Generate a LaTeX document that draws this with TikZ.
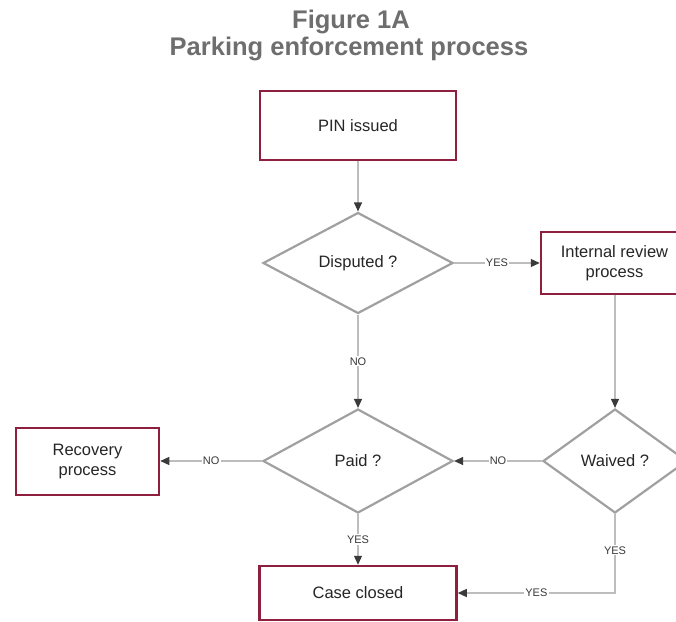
\documentclass[tikz,border=0pt]{standalone}
\usepackage{fontspec}
\setmainfont{Liberation Sans}
\usetikzlibrary{shapes.geometric,arrows.meta}
\definecolor{boxred}{HTML}{8E1F3F}
\definecolor{diagray}{HTML}{A0A0A0}
\definecolor{linegray}{HTML}{BDBDBD}
\definecolor{tipgray}{HTML}{3A3A3A}
\definecolor{txtgray}{HTML}{262626}
\definecolor{lblgray}{HTML}{383838}
\definecolor{titlegray}{HTML}{6E6E6E}
\tikzset{
  procbox/.style={draw=boxred, line width=2.5pt, fill=white, rectangle, inner sep=0pt,
    align=center, text=txtgray, font=\fontsize{16.5}{20}\selectfont},
  decision/.style={draw=diagray, line width=2.2pt, fill=white, diamond, inner sep=0pt,
    text=txtgray, font=\fontsize{16.5}{20}\selectfont},
  flow/.style={draw=linegray, line width=1.2pt, -{Triangle[length=9pt,width=8pt,color=tipgray]}},
  lbl/.style={fill=white, inner sep=1.2pt, text=lblgray, font=\fontsize{11}{12}\selectfont},
  ttl/.style={text=titlegray, font=\fontsize{25.5}{28}\selectfont\bfseries, anchor=base}
}
\begin{document}
\begin{tikzpicture}[x=1pt,y=-1pt]
\useasboundingbox (0,0) rectangle (676,621);
\clip (0,0) rectangle (676,621);
\fill[white] (0,0) rectangle (676,621);
\node[ttl] (t1) at (351,28) {Figure 1A};
\node[ttl] (t2) at (349,55) {Parking enforcement process};

\node[procbox, minimum width=196pt, minimum height=69pt] (pin) at (358,125.5) {PIN issued};
\node[decision, minimum width=190pt, minimum height=101pt] (disp) at (358,263) {Disputed ?};
\node[procbox, minimum width=147pt, minimum height=62pt] (irp) at (614.5,263) {Internal review\\process};
\node[decision, minimum width=190pt, minimum height=104pt] (paid) at (358,461) {Paid ?};
\node[decision, minimum width=144pt, minimum height=104pt] (waived) at (615,461) {Waived ?};
\node[procbox, minimum width=143pt, minimum height=67pt] (rec) at (87.5,461.5) {Recovery\\process};
\node[procbox, minimum width=197pt, minimum height=54pt] (closed) at (358,593) {Case closed};

\draw[flow] (pin.south) -- (disp.north);
\draw[flow] (disp.east) -- node[lbl] {YES} (irp.west);
\draw[flow] (disp.south) -- node[lbl] {NO} (paid.north);
\draw[flow] (irp.south -| waived.north) -- (waived.north);
\draw[flow] (waived.west) -- node[lbl] {NO} (paid.east);
\draw[flow] (paid.west) -- node[lbl] {NO} (paid.west -| rec.east);
\draw[flow] (paid.south) -- node[lbl] {YES} (closed.north);
\draw[flow] (waived.south) |- node[lbl,pos=0.23] {YES} node[lbl,pos=0.75] {YES} (closed.east);
\end{tikzpicture}
\end{document}
